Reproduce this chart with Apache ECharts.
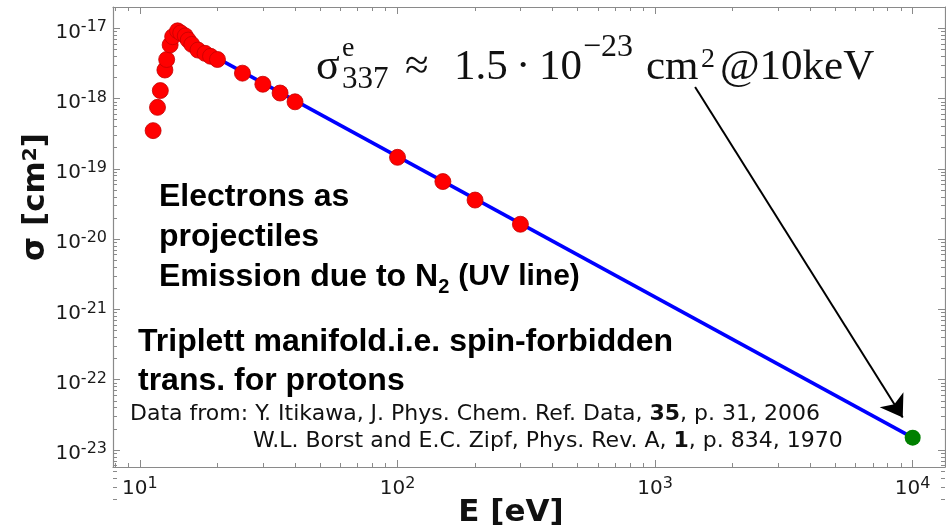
<!DOCTYPE html>
<html>
<head>
<meta charset="utf-8">
<script src="https://cdn.jsdelivr.net/npm/echarts@6/dist/echarts.min.js"></script>
<style>
  html, body { margin: 0; padding: 0; background: #ffffff; }
  #chart { width: 946px; height: 530px; }
</style>
</head>
<body>
<div id="chart"></div>
<script>
// Emission cross section of the N2 337 nm (UV) line for electron impact.
const energyEV = [11.25, 11.7, 12.0, 12.5, 12.7, 13.1, 13.4, 14.0, 14.4, 15.0, 15.4, 15.9,
                  16.8, 17.9, 18.8, 20, 25, 30, 35, 40, 100, 150, 200, 300];
const sigmaCm2 = [3.5e-19, 7.5e-19, 1.3e-18, 2.55e-18, 3.6e-18, 5.8e-18, 7.6e-18, 9.2e-18,
                  8.6e-18, 7.8e-18, 6.8e-18, 5.9e-18, 4.9e-18, 4.4e-18, 4.0e-18, 3.6e-18,
                  2.3e-18, 1.6e-18, 1.2e-18, 9.0e-19, 1.46e-19, 6.6e-20, 3.6e-20, 1.63e-20];

// Power-law extension towards 10 keV
const fitE = [16, 10000];
const fitSigma = [5.86e-18, 1.5e-23];

// Value at 10 keV
const pointE = [10000];
const pointSigma = [1.5e-23];

// Arrow from the annotation to the 10 keV point
const arrowFrom = [1430, 1.46e-18];
const arrowTo = [9150, 2.9e-23];

// Axis ticks
const xMajorTicks = [10, 100, 1000, 10000];
const yMajorTicks = [1e-17, 1e-18, 1e-19, 1e-20, 1e-21, 1e-22, 1e-23];

const X_MIN = 7.86, X_MAX = 13350;
const Y_MIN = 5.73e-24, Y_MAX = 2.01e-17;

function minorTicks(fromExp, toExp) {
  const out = [];
  for (let e = fromExp; e <= toExp; e++) {
    for (let k = 2; k <= 9; k++) out.push(Number((k * Math.pow(10, e)).toPrecision(3)));
  }
  return out;
}
const xMinor = minorTicks(0, 4);
const yMinor = minorTicks(-24, -17);

const AXIS_GRAY = '#8a8a8a';
const powLabel = v => '{b|10}{s|' + Math.round(Math.log10(v)) + '}';
const labelRich = {
  b: { fontFamily: 'DejaVu Sans', fontSize: 20, color: '#1a1a1a', lineHeight: 26 },
  s: { fontFamily: 'DejaVu Sans', fontSize: 16, color: '#1a1a1a', verticalAlign: 'top', lineHeight: 16 }
};

function makeAxis(dim, pos, kind) {
  const isX = dim === 'x';
  const major = kind === 'major';
  const showLabel = major && (pos === 'bottom' || pos === 'left');
  return {
    type: 'log',
    logBase: 10,
    min: isX ? X_MIN : Y_MIN,
    max: isX ? X_MAX : Y_MAX,
    position: pos,
    gridIndex: 0,
    axisLine: { show: major, onZero: false, lineStyle: { color: AXIS_GRAY, width: 1.2 } },
    axisTick: {
      show: true, inside: true, length: major ? 7 : 4,
      customValues: major ? (isX ? xMajorTicks : yMajorTicks) : (isX ? xMinor : yMinor),
      lineStyle: { color: AXIS_GRAY, width: 1 }
    },
    axisLabel: {
      show: showLabel,
      customValues: isX ? xMajorTicks : yMajorTicks,
      margin: isX ? 9 : 6,
      padding: isX ? 0 : [8, 0, 0, 0],
      formatter: powLabel,
      rich: labelRich
    },
    splitLine: { show: false },
    minorTick: { show: false },
    minorSplitLine: { show: false }
  };
}

const chart = echarts.init(document.getElementById('chart'), null, { renderer: 'canvas' });

const serif = (text, x, y, size) => ({
  type: 'text', x: x, y: y,
  style: { text: text, fontFamily: 'Liberation Serif', fontSize: size, fill: '#111', verticalAlign: 'middle' }
});

const option = {
  animation: false,
  backgroundColor: '#ffffff',
  grid: { left: 113, right: 1, top: 7, bottom: 63, containLabel: false, outerBoundsMode: 'none' },
  xAxis: [
    makeAxis('x', 'bottom', 'major'),
    makeAxis('x', 'bottom', 'minor'),
    makeAxis('x', 'top', 'major'),
    makeAxis('x', 'top', 'minor')
  ],
  yAxis: [
    makeAxis('y', 'left', 'major'),
    makeAxis('y', 'left', 'minor'),
    makeAxis('y', 'right', 'major'),
    makeAxis('y', 'right', 'minor')
  ],
  series: [
    {
      type: 'line',
      silent: true,
      data: fitE.map((e, i) => [e, fitSigma[i]]),
      symbol: 'none',
      lineStyle: { color: '#0000ff', width: 3.5 },
      z: 2
    },
    {
      type: 'scatter',
      silent: true,
      data: energyEV.map((e, i) => [e, sigmaCm2[i]]),
      symbol: 'circle',
      symbolSize: 16,
      itemStyle: { color: '#ff0000', borderColor: '#c40000', borderWidth: 0.8, opacity: 1 },
      z: 3
    },
    {
      type: 'scatter',
      silent: true,
      data: pointE.map((e, i) => [e, pointSigma[i]]),
      symbol: 'circle',
      symbolSize: 16,
      itemStyle: { color: '#008000', opacity: 1 },
      z: 4,
      markLine: {
        silent: true,
        symbol: ['none', 'arrow'],
        symbolSize: 21,
        label: { show: false },
        emphasis: { disabled: true },
        lineStyle: { color: '#000000', width: 2, type: 'solid' },
        data: [[{ coord: arrowFrom }, { coord: arrowTo }]]
      }
    }
  ],
  graphic: [
    // y axis title
    {
      type: 'text', x: 36, y: 197, rotation: Math.PI / 2,
      style: {
        text: 'σ [cm{s|2}]', align: 'center', verticalAlign: 'middle',
        fontFamily: 'DejaVu Sans', fontWeight: 'bold', fontSize: 31, fill: '#111',
        rich: {
          s: { fontFamily: 'DejaVu Sans', fontWeight: 'bold', fontSize: 20, verticalAlign: 'top', lineHeight: 18 }
        }
      }
    },
    // x axis title
    {
      type: 'text', x: 511, y: 513,
      style: {
        text: 'E [eV]', align: 'center', verticalAlign: 'middle',
        fontFamily: 'DejaVu Sans', fontWeight: 'bold', fontSize: 31, fill: '#111'
      }
    },
    // cross-section formula
    serif('σ', 316, 67.5, 44),
    serif('e', 342, 48.5, 28),
    serif('337', 342, 80, 31),
    serif('≈', 405, 67.5, 43),
    serif('1.5', 454, 67.5, 43),
    serif('·', 516, 67.5, 43),
    serif('10', 539, 67.5, 43),
    serif('−23', 583, 47.5, 32),
    serif('cm', 646, 67.5, 43),
    serif('2', 701, 59.5, 28),
    serif('@10keV', 720, 67.5, 43),
    // projectile note
    {
      type: 'text', x: 159, y: 177,
      style: {
        text: 'Electrons as\nprojectiles\nEmission due to N{sub|2} {p|(UV line)}',
        fontFamily: 'Liberation Sans', fontWeight: 'bold', fontSize: 32, lineHeight: 40,
        fill: '#000', verticalAlign: 'top',
        rich: {
          sub: { fontFamily: 'Liberation Sans', fontWeight: 'bold', fontSize: 20, verticalAlign: 'bottom', lineHeight: 31 },
          p: { fontFamily: 'Liberation Sans', fontWeight: 'bold', fontSize: 30, lineHeight: 40 }
        }
      }
    },
    {
      type: 'text', x: 138, y: 323,
      style: {
        text: 'Triplett manifold.i.e. spin-forbidden\ntrans. for protons',
        fontFamily: 'Liberation Sans', fontWeight: 'bold', fontSize: 32, lineHeight: 39,
        fill: '#000', verticalAlign: 'top'
      }
    },
    // references
    {
      type: 'text', x: 130, y: 414,
      style: {
        text: 'Data from: Y. Itikawa, J. Phys. Chem. Ref. Data, {b|35}, p. 31, 2006',
        fontFamily: 'DejaVu Sans', fontSize: 22, fill: '#111', verticalAlign: 'middle',
        rich: { b: { fontFamily: 'DejaVu Sans', fontWeight: 'bold', fontSize: 22 } }
      }
    },
    {
      type: 'text', x: 253, y: 441,
      style: {
        text: 'W.L. Borst and E.C. Zipf, Phys. Rev. A, {b|1}, p. 834, 1970',
        fontFamily: 'DejaVu Sans', fontSize: 22, fill: '#111', verticalAlign: 'middle',
        rich: { b: { fontFamily: 'DejaVu Sans', fontWeight: 'bold', fontSize: 22 } }
      }
    }
  ]
};

chart.setOption(option);
</script>
</body>
</html>
